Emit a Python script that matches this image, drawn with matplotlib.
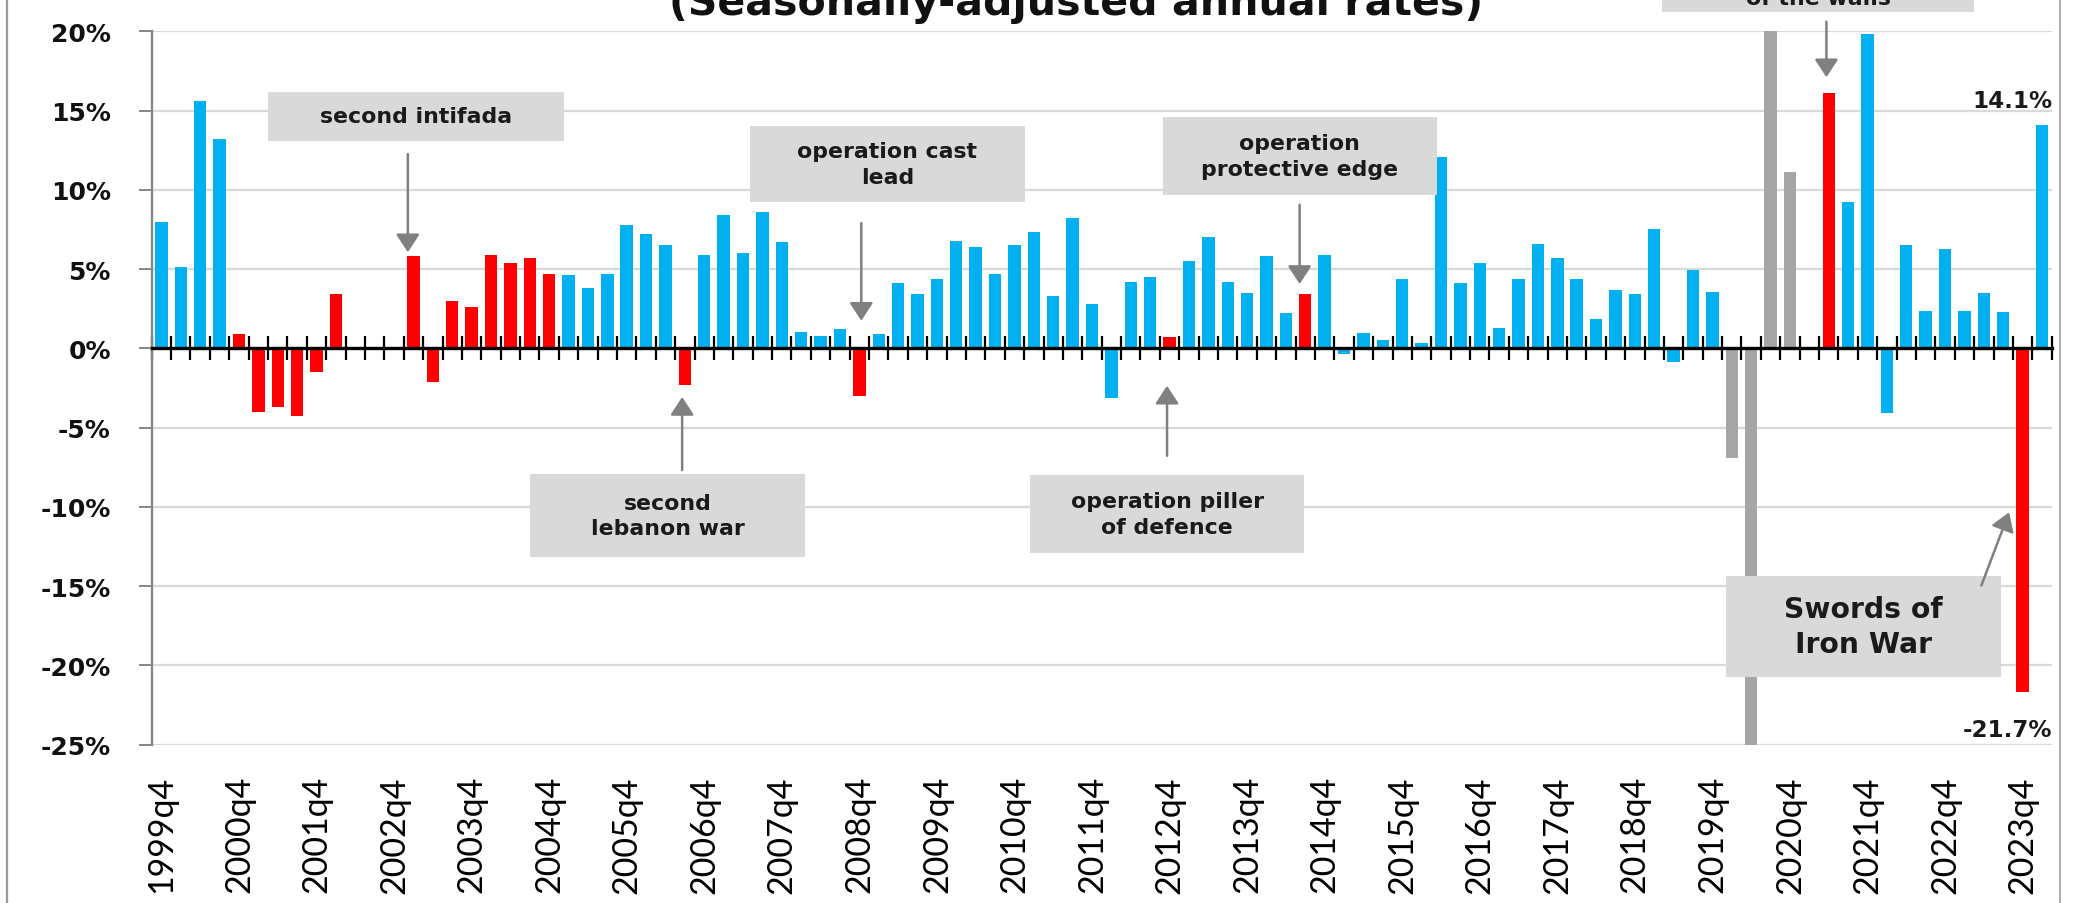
import numpy as np
import matplotlib
matplotlib.use("Agg")
import matplotlib.pyplot as plt
from matplotlib.patches import Rectangle

# ---------------- data (quarterly GDP growth, % seasonally-adjusted annual rate) ----------------
values = [
    8.0, 5.1, 15.6, 13.2,     # 1999q4 .. 2000q3
    0.9, -4.0, -3.7, -4.3,    # 2000q4 .. 2001q3
    -1.5, 3.4, 0.0, 0.0,      # 2001q4 .. 2002q3
    0.0, 5.8, -2.1, 3.0,      # 2002q4 .. 2003q3
    2.6, 5.9, 5.4, 5.7,       # 2003q4 .. 2004q3
    4.7, 4.6, 3.8, 4.7,       # 2004q4 .. 2005q3
    7.8, 7.2, 6.5, -2.3,      # 2005q4 .. 2006q3
    5.9, 8.4, 6.0, 8.6,       # 2006q4 .. 2007q3
    6.7, 1.0, 0.75, 1.2,      # 2007q4 .. 2008q3
    -3.0, 0.9, 4.1, 3.4,      # 2008q4 .. 2009q3
    4.4, 6.8, 6.4, 4.7,       # 2009q4 .. 2010q3
    6.5, 7.35, 3.3, 8.25,     # 2010q4 .. 2011q3
    2.8, -3.15, 4.2, 4.5,     # 2011q4 .. 2012q3
    0.7, 5.5, 7.0, 4.2,       # 2012q4 .. 2013q3
    3.5, 5.85, 2.2, 3.45,     # 2013q4 .. 2014q3
    5.9, -0.35, 0.95, 0.5,    # 2014q4 .. 2015q3
    4.4, 0.35, 12.1, 4.1,     # 2015q4 .. 2016q3
    5.4, 1.3, 4.4, 6.55,      # 2016q4 .. 2017q3
    5.7, 4.4, 1.85, 3.7,      # 2017q4 .. 2018q3
    3.45, 7.5, -0.85, 4.95,   # 2018q4 .. 2019q3
    3.55, -6.9, -28.7, 37.9,  # 2019q4 .. 2020q3
    11.15, 0.0, 16.1, 9.2,    # 2020q4 .. 2021q3
    19.8, -4.05, 6.5, 2.35,   # 2021q4 .. 2022q3
    6.25, 2.35, 3.5, 2.3,     # 2022q4 .. 2023q3
    -21.7, 14.1,              # 2023q4 .. 2024q1
]
# B = normal quarter, R = war / operation quarter, G = covid quarters
bar_type = (
    "BBBB" "RRRR" "RRRR" "RRRR" "RRRR" "RBBB" "BBBR" "BBBB" "BBBB" "RBBB"
    "BBBB" "BBBB" "BBBB" "RBBB" "BBBR" "BBBB" "BBBB" "BBBB" "BBBB" "BBBB"
    "BGGG" "GGRB" "BBBB" "BBBB" "RB"
)
tick_labels = ["1999q4", "2000q4", "2001q4", "2002q4", "2003q4", "2004q4",
               "2005q4", "2006q4", "2007q4", "2008q4", "2009q4", "2010q4",
               "2011q4", "2012q4", "2013q4", "2014q4", "2015q4", "2016q4",
               "2017q4", "2018q4", "2019q4", "2020q4", "2021q4", "2022q4",
               "2023q4"]
ytick_values = [-25, -20, -15, -10, -5, 0, 5, 10, 15, 20]
ytick_labels = ["-25%", "-20%", "-15%", "-10%", "-5%", "0%", "5%", "10%", "15%", "20%"]
title_text = "(Seasonally-adjusted annual rates)"

# annotation boxes: text, box (x0, x1, y0, y1) in data units, arrow (x_tail, y_tail, x_tip, y_tip)
events = [
    ("second intifada",               (5.50, 20.77, 13.06, 16.20), (12.71, 12.26, 12.71, 6.06)),
    ("second\nlebanon war",           (19.02, 33.21, -13.17, -7.93), (26.86, -7.68, 26.86, -3.07)),
    ("operation cast\nlead",          (30.35, 44.54, 9.25, 14.04), (36.10, 7.90, 36.10, 1.74)),
    ("operation piller\nof defence",  (44.79, 58.96, -12.91, -7.99), (51.87, -6.78, 51.87, -2.36)),
    ("operation\nprotective edge",    (51.67, 65.77, 9.69, 14.61), (58.71, 9.06, 58.71, 4.06)),
]

COLORS = {"B": "#00B0F0", "R": "#FF0000", "G": "#A5A5A5"}
BOX_COLOR = "#D9D9D9"
ARROW_COLOR = "#808080"
TEXT_COLOR = "#1A1A1A"
ARROW = dict(arrowstyle="-|>,head_length=0.55,head_width=0.36", color=ARROW_COLOR,
             lw=1.8, shrinkA=0, shrinkB=0, mutation_scale=20)

W, H = 2074, 904
fig = plt.figure(figsize=(W / 100, H / 100), dpi=100)
ax = fig.add_axes([151.7 / W, (H - 745.6) / H, 1900.0 / W, 713.3 / H])

x = np.arange(len(values))
ax.bar(x, values, width=0.64, color=[COLORS[t] for t in bar_type], linewidth=0, zorder=2)
ax.set_xlim(-0.5, len(values) - 0.5)
ax.set_ylim(-25, 20)

# y axis
ax.set_yticks(ytick_values)
ax.set_yticklabels(ytick_labels, fontsize=18, fontweight="bold", family="DejaVu Sans", color="#111111")
ax.tick_params(axis="y", direction="out", length=9.4, width=1.4, color="#868686", pad=20)
ax.yaxis.grid(True, color="#D9D9D9", linewidth=1.6)
ax.set_axisbelow(True)
ax.spines["left"].set_color("#868686")
ax.spines["left"].set_linewidth(1.7)
ax.spines["top"].set_visible(False)
ax.spines["right"].set_visible(False)

# category axis drawn at zero, tick marks between categories
ax.spines["bottom"].set_position(("data", 0))
ax.spines["bottom"].set_color("black")
ax.spines["bottom"].set_linewidth(2.4)
ax.spines["bottom"].set_zorder(3)
ax.set_xticks(np.arange(len(values) + 1) - 0.5)
ax.tick_params(axis="x", direction="inout", length=17.5, width=1.6, color="black", labelbottom=False)

# quarter labels at the bottom
sec = ax.secondary_xaxis("bottom")
sec.set_xticks(x[::4])
sec.set_xticklabels(tick_labels, rotation=90, fontsize=24.5, family="Lato", color="black")
sec.tick_params(length=0, pad=22)
sec.spines["bottom"].set_visible(False)

# event boxes and arrows
for text, (bx0, bx1, by0, by1), (tx, ty, hx, hy) in events:
    ax.add_patch(Rectangle((bx0, by0), bx1 - bx0, by1 - by0, facecolor=BOX_COLOR,
                           edgecolor="none", zorder=4))
    ax.text((bx0 + bx1) / 2, (by0 + by1) / 2, text, ha="center", va="center",
            multialignment="center", fontsize=15.8, fontweight="bold",
            family="DejaVu Sans", color=TEXT_COLOR, linespacing=1.35, zorder=5)
    ax.annotate("", xy=(hx, hy), xytext=(tx, ty), arrowprops=ARROW, zorder=5)

# guardian of the walls (box cut by the top edge, as in the original)
ax.add_patch(Rectangle((77.42, 21.24), 93.51 - 77.42, 10.0, facecolor=BOX_COLOR,
                       edgecolor="none", zorder=4, clip_on=False))
ax.text((77.42 + 93.51) / 2, 21.5, "operation guardian\nof the walls", ha="center", va="bottom",
        multialignment="center", fontsize=15.8, fontweight="bold", family="DejaVu Sans",
        color=TEXT_COLOR, linespacing=1.35, zorder=5, clip_on=False)
ax.annotate("", xy=(85.88, 17.1), xytext=(85.88, 20.6), arrowprops=ARROW,
            zorder=5, annotation_clip=False)

# Swords of Iron War
ax.add_patch(Rectangle((80.68, -20.76), 94.87 - 80.68, 20.76 - 14.35, facecolor=BOX_COLOR,
                       edgecolor="none", zorder=4))
ax.text((80.68 + 94.87) / 2, (-20.76 - 14.35) / 2, "Swords of\nIron War", ha="center", va="center",
        multialignment="center", fontsize=20.3, fontweight="bold", family="DejaVu Sans",
        color=TEXT_COLOR, linespacing=1.3, zorder=5)
ax.annotate("", xy=(95.3, -10.35), xytext=(93.87, -14.97), arrowprops=ARROW, zorder=6)

# data labels of the last two quarters
ax.text(len(values) - 0.47, 15.2, f"{values[-1]:.1f}%", ha="right", va="baseline",
        fontsize=16.6, fontweight="bold", family="DejaVu Sans", color=TEXT_COLOR, zorder=5)
ax.text(len(values) - 0.47, -24.46, f"{values[-2]:.1f}%", ha="right", va="baseline",
        fontsize=16.6, fontweight="bold", family="DejaVu Sans", color=TEXT_COLOR, zorder=5)

# title (cut by the top edge in the original)
fig.text(1076.5 / W, 1 - 15.0 / H, title_text, ha="center", va="baseline",
         fontsize=29.6, fontweight="bold", family="DejaVu Sans", color="#111111")

# frame lines of the original picture
fig.add_artist(plt.Line2D([6.7 / W, 6.7 / W], [0, 1], color="#9A9A9A", lw=1.6))
fig.add_artist(plt.Line2D([2060 / W, 2060 / W], [0, 1], color="#A0A0A0", lw=1.2))

fig.savefig("out.png", dpi=100)
